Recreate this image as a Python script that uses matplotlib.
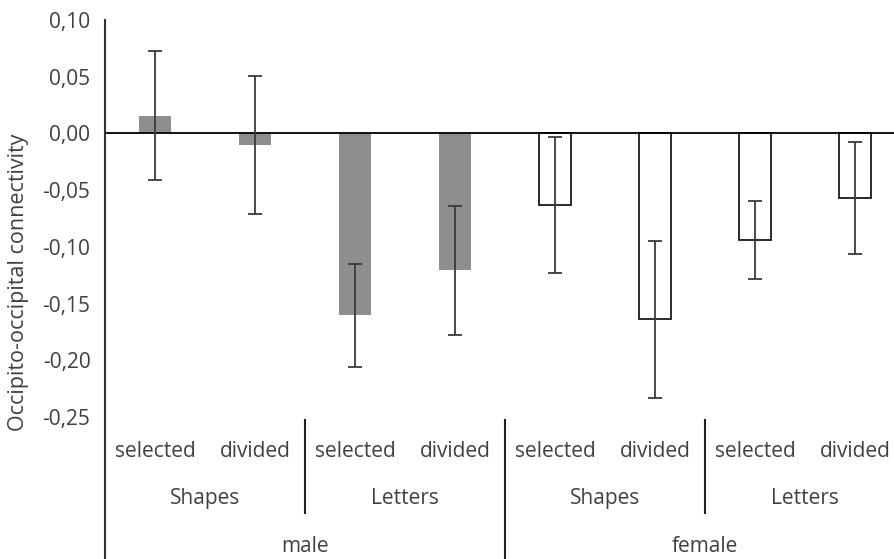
import numpy as np
import matplotlib
matplotlib.use('Agg')
import matplotlib.pyplot as plt

plt.rcParams['font.family'] = ['Open Sans', 'DejaVu Sans']

# Data
conditions = ['selected', 'divided', 'selected', 'divided',
              'selected', 'divided', 'selected', 'divided']
stimuli    = ['Shapes', 'Letters', 'Shapes', 'Letters']
groups     = ['male', 'female']
means      = [0.0155, -0.0103, -0.1605, -0.1208, -0.0633, -0.164, -0.094, -0.0569]
errors     = [0.0568, 0.0606, 0.0455, 0.057, 0.060, 0.069, 0.034, 0.049]
yticks     = [0.10, 0.05, 0.00, -0.05, -0.10, -0.15, -0.20, -0.25]

txt = '#404040'
fs = 15

fig = plt.figure(figsize=(8.95, 5.59), dpi=100)
ax = fig.add_axes([105/895, 142/559, 790/895, 397/559])

x = np.arange(len(means))
male = x < 4
ax.bar(x[male], np.array(means)[male], width=0.32, color='#8e8e8e', edgecolor='none')
ax.bar(x[~male], np.array(means)[~male], width=0.32, color='white',
       edgecolor='#1a1a1a', linewidth=1.3)
ax.errorbar(x, means, yerr=errors, fmt='none', ecolor='#3a3a3a',
            elinewidth=1.3, capsize=4.7, capthick=1.3)

ax.axhline(0, color='black', linewidth=1.3, zorder=1)
ax.set_xlim(-0.5, 7.4)
ax.set_ylim(-0.25, 0.10)
ax.set_yticks(yticks)
ax.set_yticklabels([f'{v:.2f}'.replace('.', ',') for v in yticks])
ax.tick_params(axis='y', length=0, labelsize=fs, labelcolor=txt, pad=10.5)
ax.set_xticks([])
for s in ['top', 'right', 'bottom', 'left']:
    ax.spines[s].set_visible(False)

# y label centred on the full left line
fig.text(19/895, 1 - 282/559, 'Occipito-occipital connectivity', rotation=90,
         ha='center', va='center', fontsize=15.5, color=txt)

# Left axis line that runs down through the category area
tr = ax.get_xaxis_transform()
ax.plot([-0.5, -0.5], [1.0, -0.36], color='#333333', lw=1.5,
        transform=tr, clip_on=False)

# Multi-level category labels
for i, c in enumerate(conditions):
    ax.text(i, -0.088, c, transform=tr, ha='center', va='center',
            fontsize=fs, color=txt)
for j, s in enumerate(stimuli):
    ax.text(2*j + 0.5, -0.2065, s, transform=tr, ha='center', va='center',
            fontsize=fs, color=txt)
for k, g in enumerate(groups):
    ax.text(4*k + 1.5, -0.327, g, transform=tr, ha='center', va='center',
            fontsize=fs, color=txt)

# Separators
for xs in [1.5, 5.5]:
    ax.plot([xs, xs], [-0.008, -0.242], color='#222222', lw=1.5,
            transform=tr, clip_on=False)
ax.plot([3.5, 3.5], [-0.008, -0.36], color='#222222', lw=1.5,
        transform=tr, clip_on=False)

fig.savefig('out.png', dpi=100)
